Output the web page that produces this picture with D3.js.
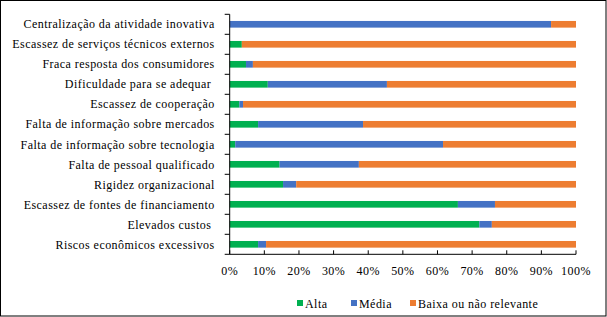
<!DOCTYPE html>
<html><head><meta charset="utf-8">
<script src="https://cdn.jsdelivr.net/npm/d3@7"></script>
<style>body{margin:0;background:#fff}svg{display:block}</style>
</head><body>
<script>
const categories = [
  "Centralização da atividade inovativa",
  "Escassez de serviços técnicos externos",
  "Fraca resposta dos consumidores",
  "Dificuldade para se adequar ",
  "Escassez de cooperação",
  "Falta de informação sobre mercados",
  "Falta de informação sobre tecnologia",
  "Falta de pessoal qualificado",
  "Rigidez organizacional",
  "Escassez de fontes de financiamento",
  "Elevados custos ",
  "Riscos econômicos excessivos"
];
const alta  = [0, 3.5, 4.7, 11.0, 2.8, 8.2, 1.6, 14.4, 15.4, 65.9, 72.1, 8.2];
const media = [92.8, 0, 2.0, 34.4, 1.05, 30.3, 60.0, 22.9, 3.8, 10.7, 3.6, 2.3];
const baixa = alta.map((a,i)=>100-a-media[i]);
const seriesNames = ["Alta","Média","Baixa ou não relevante"];
const colors = ["#00b050","#4472c4","#ed7d31"];
const tickValues = [0,10,20,30,40,50,60,70,80,90,100];

const W=607,H=317;
const svg=d3.select("body").append("svg").attr("width",W).attr("height",H);
svg.append("rect").attr("x",0.5).attr("y",0.5).attr("width",W-1.5).attr("height",H-1.5)
  .attr("fill","#fff").attr("stroke","#000").attr("stroke-width",1);

const x0=229.7,x1=576,y0=14.3,y1=254.3;
const x=d3.scaleLinear().domain([0,100]).range([x0,x1]);
const y=d3.scaleBand().domain(categories).range([y0,y1]).paddingInner(0.667).paddingOuter(0.333);

const rows=categories.map((c,i)=>({cat:c,Alta:alta[i],"Média":media[i],"Baixa ou não relevante":baixa[i]}));
const stack=d3.stack().keys(seriesNames)(rows);

svg.append("g").selectAll("g").data(stack).join("g").attr("fill",(d,i)=>colors[i])
  .selectAll("rect").data(d=>d).join("rect")
  .attr("x",d=>x(d[0])).attr("width",d=>x(d[1])-x(d[0]))
  .attr("y",d=>y(d.data.cat)).attr("height",y.bandwidth());

const font="'Liberation Serif','Times New Roman',serif";
const fs=12, ls=0.45;
// y axis
const ya=svg.append("g").attr("transform",`translate(${x0},0)`);
ya.append("line").attr("x1",0).attr("x2",0).attr("y1",y0).attr("y2",y1).attr("stroke","#000");
const yb=d3.scaleLinear().domain([0,categories.length]).range([y0,y1]);
ya.selectAll("line.t").data(d3.range(categories.length+1)).join("line").attr("class","t")
  .attr("x1",-5).attr("x2",0).attr("y1",d=>yb(d)).attr("y2",d=>yb(d)).attr("stroke","#000");
ya.selectAll("text").data(categories).join("text")
  .attr("x",-15).attr("y",d=>y(d)+y.bandwidth()/2).attr("dy","0.35em")
  .attr("text-anchor","end").attr("font-family",font).attr("font-size",fs)
  .attr("letter-spacing",ls)
  .style("white-space","pre").attr("xml:space","preserve").text(d=>d);

// x axis
const xa=svg.append("g").attr("transform",`translate(0,${y1})`);
xa.append("line").attr("x1",x0).attr("x2",x1).attr("stroke","#000");
xa.selectAll("line.t").data(tickValues).join("line").attr("class","t")
  .attr("x1",d=>x(d)).attr("x2",d=>x(d)).attr("y1",-4).attr("y2",0).attr("stroke","#000");
xa.selectAll("text").data(tickValues).join("text")
  .attr("x",d=>x(d)).attr("y",20.5).attr("text-anchor","middle")
  .attr("font-family",font).attr("font-size",fs).attr("letter-spacing",ls).text(d=>d+"%");

// legend
const legX=[297,351,410];
const lg=svg.append("g");
seriesNames.forEach((n,i)=>{
  lg.append("rect").attr("x",legX[i]).attr("y",300).attr("width",6).attr("height",6).attr("fill",colors[i]);
  lg.append("text").attr("x",legX[i]+8).attr("y",307.5).attr("font-family",font).attr("font-size",fs)
    .attr("letter-spacing",ls).text(n);
});
</script>
</body></html>
